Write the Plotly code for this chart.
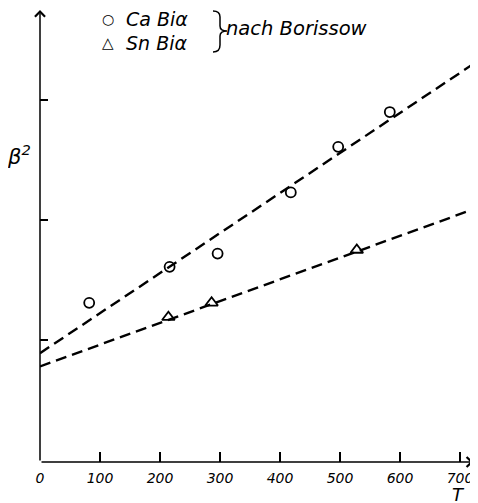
import plotly.graph_objects as go

# ---- data ----
ca_T = [82, 216, 296, 418, 497, 583]
ca_b2 = [1.31, 1.61, 1.72, 2.23, 2.61, 2.90]
sn_T = [214, 286, 528]
sn_b2 = [1.19, 1.31, 1.75]

ca_fit_T = [0, 725]
ca_fit_b2 = [0.89, 3.31]
sn_fit_T = [0, 717]
sn_fit_b2 = [0.78, 2.08]

x_ticks = [0, 100, 200, 300, 400, 500, 600, 700]
y_ticks = [1, 2, 3]

X_RANGE = [0, 730]
Y_RANGE = [-0.0167, 3.767]

FONT = "DejaVu Sans"

# the page body adds an 8px margin; size the figure so the plot lands where the reference has it
W, H = 470, 495
ML, MR, MT, MB = 32, 0, 0, 41


def px_to_data(px, py):
    # page pixel -> data coords (plot area spans page x 40..478, y 8..462)
    x = X_RANGE[0] + (px - 40) / (478 - 40) * (X_RANGE[1] - X_RANGE[0])
    y = Y_RANGE[1] - (py - 8) / (462 - 8) * (Y_RANGE[1] - Y_RANGE[0])
    return x, y


fig = go.Figure()

dash = "11px,6px"
fig.add_trace(go.Scatter(x=ca_fit_T, y=ca_fit_b2, mode="lines",
                         line=dict(color="black", width=2.4, dash=dash),
                         showlegend=False, hoverinfo="skip"))
fig.add_trace(go.Scatter(x=sn_fit_T, y=sn_fit_b2, mode="lines",
                         line=dict(color="black", width=2.4, dash=dash),
                         showlegend=False, hoverinfo="skip"))
fig.add_trace(go.Scatter(x=ca_T, y=ca_b2, mode="markers", name="Ca Biα",
                         marker=dict(symbol="circle-open", size=10, color="black",
                                     line=dict(width=1.8, color="black")),
                         showlegend=False))
fig.add_trace(go.Scatter(x=sn_T, y=sn_b2, mode="markers", name="Sn Biα",
                         marker=dict(symbol="triangle-up-open", size=11, color="black",
                                     line=dict(width=1.8, color="black")),
                         showlegend=False))

annotations = []
# axis arrows
annotations.append(dict(x=722, y=Y_RANGE[0], ax=0, ay=Y_RANGE[0],
                        xref="x", yref="y", axref="x", ayref="y",
                        text="", showarrow=True, arrowhead=4, arrowsize=1.3,
                        arrowwidth=1.5, arrowcolor="black"))
annotations.append(dict(x=0, y=3.75, ax=0, ay=Y_RANGE[0],
                        xref="x", yref="y", axref="x", ayref="y",
                        text="", showarrow=True, arrowhead=4, arrowsize=1.3,
                        arrowwidth=1.5, arrowcolor="black"))


def ital(s):
    return dict(family=FONT, size=s, color="black", style="italic")


# axis titles
annotations.append(dict(x=697, y=Y_RANGE[0], xref="x", yref="y", text="T",
                        showarrow=False, yshift=-32, height=14, font=ital(18)))
annotations.append(dict(x=(5 - 40) / 438, xref="paper", y=2.54, yref="y",
                        text="β<sup>2</sup>", showarrow=False, font=ital(21)))

# legend
lx, ly1 = px_to_data(108, 19)
_, ly2 = px_to_data(108, 43)
annotations.append(dict(x=lx, y=ly1, xref="x", yref="y", text="○",
                        showarrow=False, font=dict(family=FONT, size=14, color="black")))
annotations.append(dict(x=lx, y=ly2, xref="x", yref="y", text="△",
                        showarrow=False, font=dict(family=FONT, size=15, color="black")))
tx, _ = px_to_data(124, 0)
annotations.append(dict(x=tx, y=ly1, xref="x", yref="y", text="Ca Biα",
                        xanchor="left", showarrow=False, font=ital(19)))
annotations.append(dict(x=tx, y=ly2, xref="x", yref="y", text="Sn Biα",
                        xanchor="left", showarrow=False, font=ital(19)))
nx, ny = px_to_data(224, 28)
annotations.append(dict(x=nx, y=ny, xref="x", yref="y", text="nach Borissow",
                        xanchor="left", showarrow=False, font=ital(19.5)))

# curly brace drawn as a path
brace_px = [("M", 213, 11), ("Q", 220, 11, 220, 17), ("L", 220, 26),
            ("Q", 220, 31, 227, 31), ("Q", 220, 31, 220, 36), ("L", 220, 45),
            ("Q", 220, 52, 213, 52)]
parts = []
for seg in brace_px:
    cmd, nums = seg[0], seg[1:]
    coords = []
    for i in range(0, len(nums), 2):
        dx, dy = px_to_data(nums[i], nums[i + 1])
        coords.append(f"{dx:.3f},{dy:.4f}")
    parts.append(cmd + " " + " ".join(coords))
brace_path = " ".join(parts)

fig.update_layout(
    width=W, height=H,
    margin=dict(l=ML, r=MR, t=MT, b=MB, pad=0),
    paper_bgcolor="white", plot_bgcolor="white",
    annotations=annotations,
    shapes=[dict(type="path", path=brace_path, xref="x", yref="y",
                 line=dict(color="black", width=1.5))],
    xaxis=dict(range=X_RANGE, tickvals=x_ticks, ticktext=[str(v) for v in x_ticks],
               ticks="inside", ticklen=10, tickwidth=1.5, tickcolor="black",
               showgrid=False, zeroline=False, showline=False,
               ticklabelstandoff=6, tickfont=ital(14)),
    yaxis=dict(range=Y_RANGE, tickvals=y_ticks, ticks="inside", ticklen=8,
               tickwidth=1.5, tickcolor="black", showticklabels=False,
               showgrid=False, zeroline=False, showline=False),
)

fig.write_html("out.html")
